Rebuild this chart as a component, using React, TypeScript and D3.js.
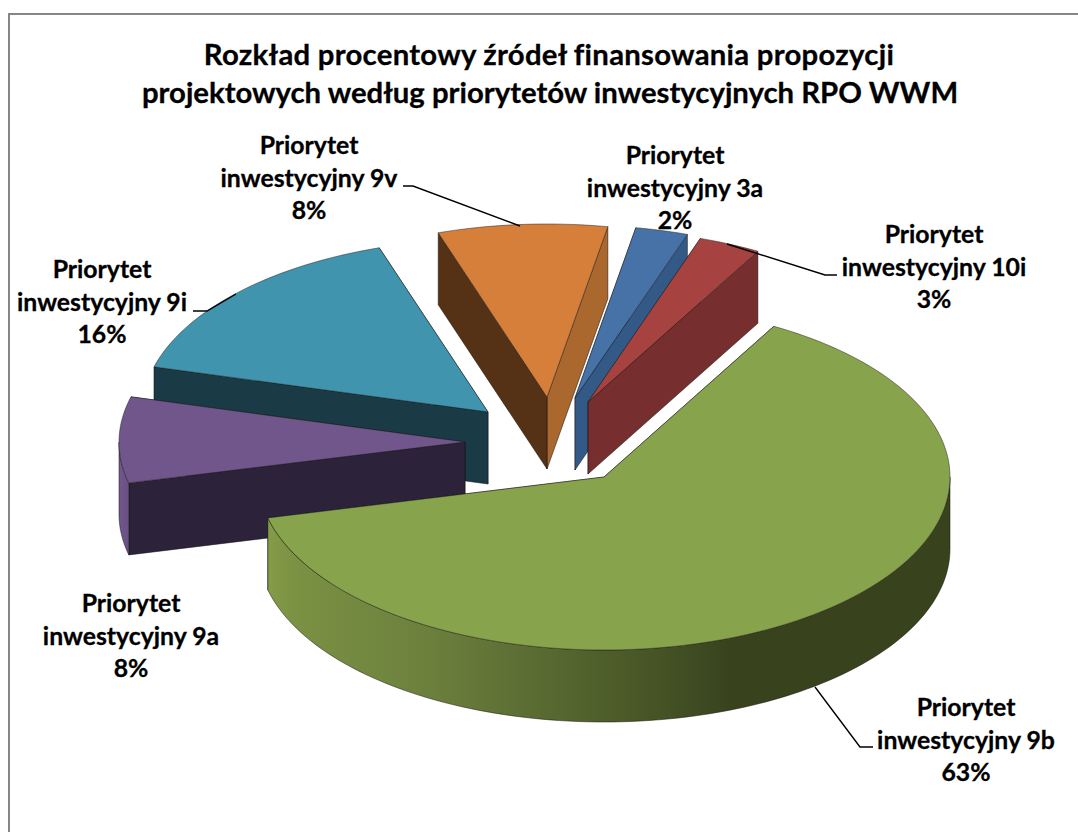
import React from "react";
import * as d3 from "d3";

const titleLines = [
  "Rozkład procentowy źródeł finansowania propozycji",
  "projektowych według priorytetów inwestycyjnych RPO WWM",
];
const categories = ["Priorytet inwestycyjny 9b", "Priorytet inwestycyjny 9a", "Priorytet inwestycyjny 9i", "Priorytet inwestycyjny 9v", "Priorytet inwestycyjny 3a", "Priorytet inwestycyjny 10i"];
const values = [63.0, 8.0, 15.7, 7.9, 2.45, 2.9];
const percentLabels = ["63%", "8%", "16%", "8%", "2%", "3%"];
const topColors = ["#87A34C", "#71568C", "#4094AE", "#D67F3B", "#4672A8", "#A64340"];
const startWallColors = ["#38431E", "#2C2239", "#1A3A45", "#553115", "#335A86", "#772E2E"];
const endWallColors = ["#38431E", "#2C2239", "#1A3A45", "#AA682F", "#335A86", "#772E2E"];
// slice apex after explosion, in page pixels
const apexX = [604, 465, 488, 547, 575, 588];
const apexY = [477, 442, 412, 397, 398, 402];
const labelX = [966, 131, 102, 309, 675, 934];
const labelY = [716, 612, 278, 154, 164, 243];
const drawOrder = [2, 3, 4, 5, 1, 0];
const leaders = [
  [[815, 687], [860, 747], [873, 747]],
  [[193, 311], [207, 311], [236, 294]],
  [[403, 186], [413, 186], [520, 226]],
  [[727, 244], [825, 275], [837, 275]],
];

const W = 1078, H = 832, RX = 346, RY = 173, DEPTH = 72;
const FONT = "Lato, 'Open Sans', sans-serif";
const rad = (d: number) => (d * Math.PI) / 180;

const pieGen = d3.pie<number>().sort(null).value((d) => d).startAngle(rad(29.4)).endAngle(rad(29.4) + 2 * Math.PI);
const arcs = pieGen(values);
const line = d3.line();

function pt(i: number, a: number, dz = 0): [number, number] {
  return [apexX[i] + RX * Math.sin(a), apexY[i] - RY * Math.cos(a) + dz];
}
function arcPts(i: number, a0: number, a1: number, dz = 0) {
  const n = Math.max(2, Math.ceil(Math.abs(a1 - a0) / rad(1.5)));
  return d3.range(n + 1).map((k) => pt(i, a0 + ((a1 - a0) * k) / n, dz));
}

export default function App() {
  return (
    <svg width={W} height={H} viewBox={`0 0 ${W} ${H}`} style={{ position: "absolute", left: 0, top: 0, display: "block", background: "#fff" }}>
      <defs>
        <linearGradient id="rim0" gradientUnits="userSpaceOnUse" x1={268} x2={730} y1={0} y2={0}>
          <stop offset="0" stopColor="#849B49" />
          <stop offset="0.07" stopColor="#7A9042" />
          <stop offset="0.35" stopColor="#6C803D" />
          <stop offset="0.72" stopColor="#4F5F2B" />
          <stop offset="0.89" stopColor="#424F23" />
          <stop offset="1" stopColor="#38431E" />
        </linearGradient>
        <linearGradient id="rim1" gradientUnits="userSpaceOnUse" x1={118} x2={130} y1={0} y2={0}>
          <stop offset="0" stopColor="#73588F" />
          <stop offset="1" stopColor="#674E80" />
        </linearGradient>
      </defs>
      <rect x={9} y={14} width={W + 20} height={H + 20} fill="#fff" stroke="#868686" strokeWidth={2} />
      <g fontFamily={FONT} fontWeight={700} fill="#000" stroke="#000" strokeWidth={0.3} textAnchor="middle" style={{ fontVariantLigatures: "none" }}>
        {titleLines.map((t, i) => (
          <text key={t} x={i === 0 ? 549 : 550} y={65 + i * 38} fontSize={29.3} letterSpacing={i === 0 ? 0.27 : 0}>{t}</text>
        ))}
      </g>
      {drawOrder.map((i) => {
        const s = arcs[i];
        const a0 = s.startAngle, a1 = s.endAngle;
        const c = pt(i, a0), e = pt(i, a1);
        const ap: [number, number] = [apexX[i], apexY[i]];
        const wall = (a: number, fill: string, key: string) => {
          const p = pt(i, a);
          const q: [number, number] = [p[0], p[1] + DEPTH];
          const ab: [number, number] = [ap[0], ap[1] + DEPTH];
          return <path key={key} d={line([ap, p, q, ab])! + "Z"} fill={fill} stroke="#111" strokeOpacity={0.75} strokeWidth={0.7} strokeLinejoin="round" />;
        };
        const walls = [
          { y: c[1], el: wall(a0, startWallColors[i], "w0") },
          { y: e[1], el: wall(a1, endWallColors[i], "w1") },
        ].sort((u, v) => u.y - v.y).map((w) => w.el);
        const rimFrom = Math.max(a0, rad(90));
        const rimTo = Math.min(a1, rad(270));
        const hasRim = rimTo > rimFrom;
        const rim = hasRim
          ? line([...arcPts(i, rimFrom, rimTo), ...arcPts(i, rimTo, rimFrom, DEPTH)])! + "Z"
          : null;
        const top = line([ap, ...arcPts(i, a0, a1)])! + "Z";
        return (
          <g key={categories[i]}>
            {walls}
            {rim && <path d={rim} fill={i === 0 ? "url(#rim0)" : "url(#rim1)"} stroke="#111" strokeOpacity={0.7} strokeWidth={0.7} />}
            <path d={top} fill={topColors[i]} stroke="#222" strokeOpacity={0.7} strokeWidth={0.7} strokeLinejoin="round" />
          </g>
        );
      })}
      <g fill="none" stroke="#000" strokeWidth={1.4}>
        {leaders.map((l, i) => (
          <path key={i} d={line(l as [number, number][])!} />
        ))}
      </g>
      <g fontFamily={FONT} fontWeight={700} fontSize={24.8} fill="#000" stroke="#000" strokeWidth={0.3} textAnchor="middle">
        {categories.map((cat, i) => {
          const w = cat.split(" ");
          return (
            <text key={cat} x={labelX[i]} y={labelY[i]}>
              <tspan x={labelX[i]}>{w[0]}</tspan>
              <tspan x={labelX[i]} dy={33}>{w[1] + " " + w[2]}</tspan>
              <tspan x={labelX[i]} dy={32}>{percentLabels[i]}</tspan>
            </text>
          );
        })}
      </g>
    </svg>
  );
}
